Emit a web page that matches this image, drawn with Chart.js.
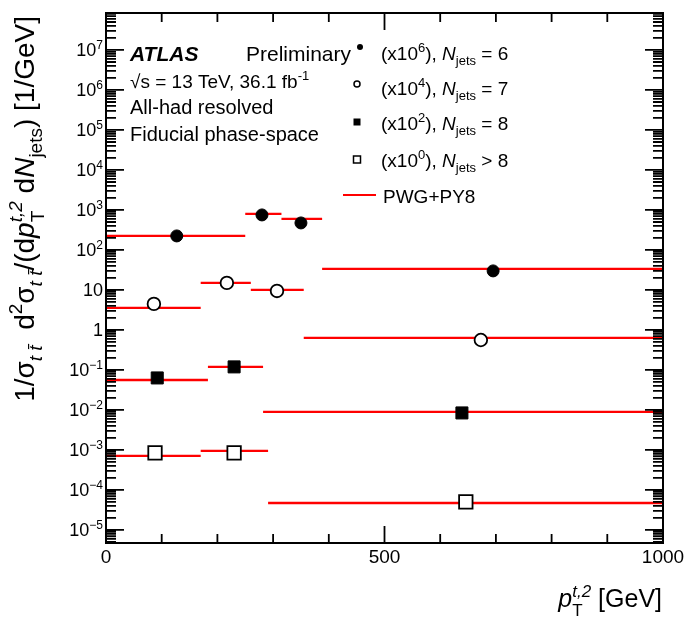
<!DOCTYPE html>
<html>
<head>
<meta charset="utf-8">
<script src="https://cdn.jsdelivr.net/npm/chart.js@4.4.0/dist/chart.umd.min.js"></script>
<style>
  html, body { margin: 0; padding: 0; background: #fff; }
  canvas { display: block; }
</style>
</head>
<body>
<canvas id="chart" width="687" height="619"></canvas>
<script>
// bin edges in GeV, one list per jet multiplicity
const edges6 = [0, 250, 315, 388, 1000]
const edges7 = [0, 170, 260, 355, 1000]
const edges8 = [0, 183, 282, 1000]
const edges9 = [0, 170, 291, 1000]

// PWG+PY8 prediction per bin (already multiplied by the legend factor)
const pred6 = [224, 794, 596, 33.5]
const pred7 = [3.55, 15.0, 10.0, 0.63]
const pred8 = [0.056, 0.119, 0.0089]
const pred9 = [7.1e-4, 9.4e-4, 4.7e-5]

// measured points
const x6 = [127, 280, 350, 695]
const y6 = [224, 750, 473, 29.9]
const x7 = [86, 217, 307, 673]
const y7 = [4.47, 15.0, 9.44, 0.56]
const x8 = [92, 230, 639]
const y8 = [0.063, 0.119, 0.0084]
const x9 = [88, 230, 646]
const y9 = [8.4e-4, 8.4e-4, 5.0e-5]

const xTickLabels = ['0', '500', '1000']
const yExponents = [-5, -4, -3, -2, -1, 0, 1, 2, 3, 4, 5, 6, 7]

const FONT = '"Liberation Sans", Arial, Helvetica, sans-serif'

function steps (edges, vals) {
  const pts = []
  vals.forEach((v, i) => {
    if (i) pts.push({ x: edges[i], y: null })
    pts.push({ x: edges[i], y: v }, { x: edges[i + 1], y: v })
  })
  return pts
}

function points (xs, ys) {
  return xs.map((x, i) => ({ x, y: ys[i] }))
}

function predLine (edges, vals) {
  return {
    type: 'line',
    data: steps(edges, vals),
    borderColor: '#ff0000',
    borderWidth: 2.3,
    borderCapStyle: 'butt',
    pointRadius: 0,
    spanGaps: false,
    showLine: true,
    order: 2
  }
}

function marker (xs, ys, style, radius, fill) {
  return {
    type: 'scatter',
    data: points(xs, ys),
    pointStyle: style,
    pointRadius: radius,
    pointBackgroundColor: fill ? '#000' : '#fff',
    pointBorderColor: '#000',
    pointBorderWidth: fill ? 1 : 1.8,
    order: 1
  }
}

// draw a run of text pieces: [text, {i, b, sup, sub, stackSub}]
function rich (ctx, x, y, parts, size, align) {
  const small = Math.round(size * 0.68)
  const fontOf = (o, s) => (o.i ? 'italic ' : '') + (o.b ? 'bold ' : '') + s + 'px ' + FONT
  const widthOf = (t, o) => {
    ctx.font = fontOf(o, (o.sup || o.sub) ? small : size)
    let w = ctx.measureText(t).width
    if (o.stackSub) {
      ctx.font = fontOf({ i: o.subI }, small)
      w = Math.max(w, ctx.measureText(o.stackSub).width)
    }
    return w
  }
  let total = 0
  parts.forEach(([t, o = {}]) => { total += widthOf(t, o) })
  let cx = align === 'right' ? x - total : x
  ctx.textBaseline = 'alphabetic'
  ctx.textAlign = 'left'
  parts.forEach(([t, o = {}]) => {
    const w = widthOf(t, o)
    ctx.font = fontOf(o, (o.sup || o.sub) ? small : size)
    let dy = 0
    if (o.sup) dy = -size * 0.42
    if (o.sub) dy = size * 0.28
    ctx.fillText(t, cx, y + dy)
    if (o.stackSub) {
      ctx.font = fontOf({ i: o.subI }, small)
      ctx.fillText(o.stackSub, cx, y + size * 0.36)
    }
    cx += w
  })
  return total
}

const atlasDecor = {
  id: 'atlasDecor',
  afterDatasetsDraw (chart) {
    const { ctx, chartArea: a, scales } = chart
    const xs = scales.x
    const ys = scales.y
    ctx.save()
    ctx.strokeStyle = '#000'
    ctx.fillStyle = '#000'

    // ticks on the inside of every side
    ctx.lineWidth = 1.8
    ctx.beginPath()
    for (let v = 0; v <= 1000; v += 100) {
      const px = xs.getPixelForValue(v)
      const len = v % 500 === 0 ? 17 : 9
      ctx.moveTo(px, a.bottom); ctx.lineTo(px, a.bottom - len)
      ctx.moveTo(px, a.top); ctx.lineTo(px, a.top + len)
    }
    for (let e = -6; e <= 8; e++) {
      for (let k = 1; k <= 9; k++) {
        const v = k * Math.pow(10, e)
        if (v < ys.min || v > ys.max) continue
        const py = ys.getPixelForValue(v)
        const len = k === 1 ? 18 : 10
        ctx.moveTo(a.left, py); ctx.lineTo(a.left + len, py)
        ctx.moveTo(a.right, py); ctx.lineTo(a.right - len, py)
      }
    }
    ctx.stroke()

    ctx.lineWidth = 2
    ctx.strokeRect(a.left, a.top, a.right - a.left, a.bottom - a.top)

    // x tick labels
    ctx.font = '19px ' + FONT
    ctx.textAlign = 'center'
    ctx.textBaseline = 'alphabetic'
    xTickLabels.forEach(l => {
      ctx.fillText(l, xs.getPixelForValue(Number(l)), a.bottom + 20)
    })

    // y tick labels
    yExponents.forEach(e => {
      const py = ys.getPixelForValue(Math.pow(10, e)) + 6.5
      if (e === 0) rich(ctx, 103, py, [['1']], 18, 'right')
      else if (e === 1) rich(ctx, 103, py, [['10']], 18, 'right')
      else rich(ctx, 103, py, [['10'], [String(e).replace('-', '\u2212'), { sup: true }]], 18, 'right')
    })

    // axis titles
    rich(ctx, 662, 607, [['p', { i: true }], ['t,2', { sup: true, i: true, stackSub: 'T' }], [' [GeV]']], 25, 'right')

    ctx.save()
    ctx.translate(34, 16)
    ctx.rotate(-Math.PI / 2)
    rich(ctx, 0, 0, [
      ['1/\u03c3'], ['t t\u0304', { sub: true, i: true }], ['  d'], ['2', { sup: true }], ['\u03c3'],
      ['t t\u0304', { sub: true, i: true }], ['/(d'], ['p', { i: true }],
      ['t,2', { sup: true, i: true, stackSub: 'T' }], [' d'], ['N', { i: true }],
      ['jets', { sub: true }], [') [1/GeV]']
    ], 28, 'right')
    ctx.restore()

    // labels
    rich(ctx, 130, 61, [['ATLAS', { b: true, i: true }]], 21)
    rich(ctx, 246, 61, [['Preliminary']], 21)
    rich(ctx, 130, 88, [['\u221as = 13 TeV, 36.1 fb'], ['-1', { sup: true }]], 19)
    rich(ctx, 130, 114, [['All-had resolved']], 20)
    rich(ctx, 130, 141, [['Fiducial phase-space']], 20)

    // legend
    const rows = [
      { y: 53, f: '6', op: '=', n: '6' },
      { y: 88, f: '4', op: '=', n: '7' },
      { y: 123, f: '2', op: '=', n: '8' },
      { y: 160, f: '0', op: '>', n: '8' }
    ]
    rows.forEach(r => {
      rich(ctx, 381, r.y + 7, [['(x10'], [r.f, { sup: true }], ['), '], ['N', { i: true }], ['jets', { sub: true }], [' ' + r.op + ' ' + r.n]], 19)
    })
    ctx.lineWidth = 1.5
    ctx.beginPath(); ctx.arc(360, 47, 3, 0, 2 * Math.PI); ctx.fill()
    ctx.beginPath(); ctx.arc(357, 84, 3, 0, 2 * Math.PI); ctx.stroke()
    ctx.fillRect(353.5, 118.5, 7, 7)
    ctx.strokeRect(353.5, 156, 7, 7)
    ctx.strokeStyle = '#ff0000'
    ctx.lineWidth = 2
    ctx.beginPath(); ctx.moveTo(343, 195); ctx.lineTo(376, 195); ctx.stroke()
    rich(ctx, 383, 203, [['PWG+PY8']], 19)

    ctx.restore()
  }
}

new Chart(document.getElementById('chart'), {
  type: 'scatter',
  data: {
    datasets: [
      marker(x6, y6, 'circle', 6, true),
      marker(x7, y7, 'circle', 6.3, false),
      marker(x8, y8, 'rect', 8.5, true),
      marker(x9, y9, 'rect', 9.5, false),
      predLine(edges6, pred6),
      predLine(edges7, pred7),
      predLine(edges8, pred8),
      predLine(edges9, pred9)
    ]
  },
  options: {
    responsive: false,
    animation: false,
    devicePixelRatio: 1,
    layout: { padding: { left: 106, right: 24, top: 13, bottom: 76 } },
    plugins: { legend: { display: false }, tooltip: { enabled: false } },
    scales: {
      x: { type: 'linear', min: 0, max: 1000, display: false },
      y: { type: 'logarithmic', min: 4.7e-6, max: 8.4e7, display: false }
    }
  },
  plugins: [atlasDecor]
})
</script>
</body>
</html>
